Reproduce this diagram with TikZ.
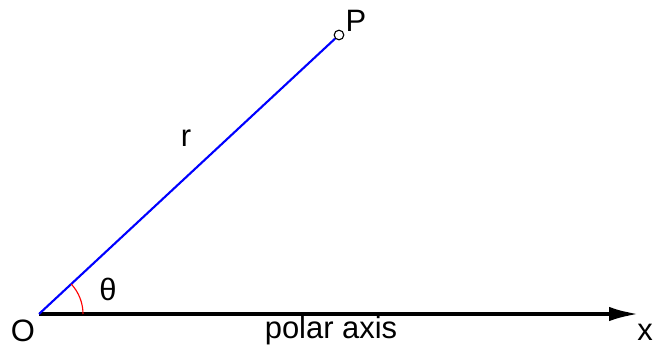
\documentclass[tikz,border=0pt]{standalone}
\usepackage{fontspec}
\setmainfont{Liberation Sans}
\usepackage{tikz}
\usetikzlibrary{arrows.meta, positioning, calc}
\definecolor{myblue}{RGB}{0,0,255}
\definecolor{myred}{RGB}{255,0,0}
\definecolor{mydark}{RGB}{0,0,0}
\tikzset{
  lbl/.style={font=\fontsize{22}{26}\selectfont, inner sep=0pt, color=mydark},
  ptdot/.style={circle, draw=mydark, fill=white, minimum size=0.24cm,
    inner sep=0pt, line width=0.8pt},
  radius line/.style={myblue, line width=1.5pt},
  axisarrow/.style={-{Latex[length=0.75cm, width=0.36cm]}, line width=2.8pt, color=mydark},
  anglearc/.style={myred, line width=0.8pt}
}
\begin{document}
\begin{tikzpicture}
  \useasboundingbox (0,0) rectangle (16.45,8.675);
  % pole and point
  \coordinate (O) at (0.975,0.825);
  \coordinate (xend) at (15.975,0.825);
  \node[ptdot] (P) at (8.475,7.8) {};
  % polar axis
  \draw[axisarrow] (O) -- (xend);
  % radius vector
  \draw[radius line] (O) -- (P);
  % angle theta
  \draw[anglearc] ($(O)+(1.1,0)$) arc[start angle=0, end angle=42.8, radius=1.1];
  % labels
  \node[lbl] (Olbl) at (0.575,0.4) {O};
  \node[lbl] (Plbl) at (8.9,8.15) {P};
  \node[lbl] (rlbl) at (4.65,5.225) {r};
  \node[lbl] (thlbl) at (2.7,1.45) {θ};
  \node[lbl] (axlbl) at (8.275,0.425) {polar axis};
  \node[lbl] (xlbl) at (16.125,0.375) {x};
\end{tikzpicture}
\end{document}
